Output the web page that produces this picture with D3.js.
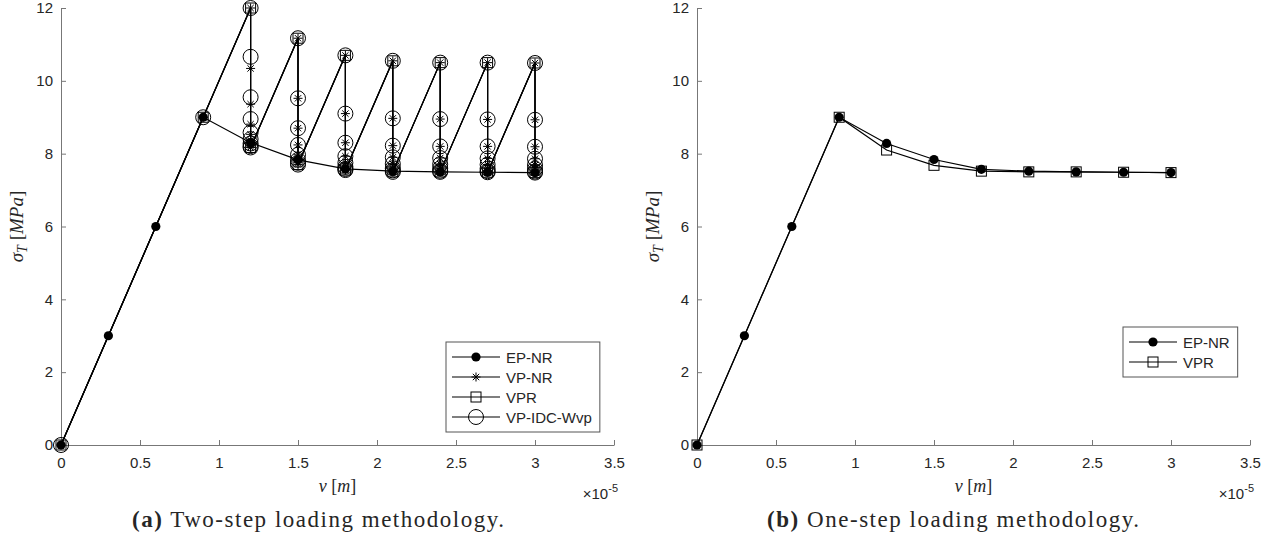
<!DOCTYPE html>
<html>
<head>
<meta charset="utf-8">
<script src="https://cdn.jsdelivr.net/npm/d3@7.9.0/dist/d3.min.js"></script>
<style>
body { margin: 0; background: #fff; }
svg { display: block; }
.tick text { font-family: "Liberation Sans", Arial, sans-serif; font-size: 15px; fill: #262626; }
.axis path, .axis line { stroke: #777; }
.serif { font-family: "Liberation Serif", "DejaVu Serif", serif; fill: #262626; }
.sans { font-family: "Liberation Sans", Arial, sans-serif; fill: #262626; }
</style>
</head>
<body>
<svg id="chart" width="1288" height="546"></svg>
<script>
// load steps (x 1e-5 m) and converged stresses (MPa)
const vLoad = [0, 0.3, 0.6, 0.9, 1.2, 1.5, 1.8, 2.1, 2.4, 2.7, 3.0];
const epNrTwoStep = [0, 3, 6, 9, 8.3, 7.83, 7.58, 7.52, 7.5, 7.49, 7.48];
const epNrOneStep = [0, 3, 6, 9, 8.28, 7.84, 7.57, 7.52, 7.5, 7.49, 7.48];

// second-step iterations, one list per load step
const vpLoad = [1.2, 1.5, 1.8, 2.1, 2.4, 2.7, 3.0];
const vpNrIter = [
    [12, 10.34, 9.36, 8.81, 8.53, 8.37, 8.27, 8.21, 8.17],
    [11.17, 9.52, 8.7, 8.24, 7.97, 7.83, 7.75, 7.7],
    [10.7, 9.1, 8.3, 7.93, 7.75, 7.64, 7.58, 7.55],
    [10.55, 8.97, 8.22, 7.9, 7.72, 7.6, 7.54, 7.5],
    [10.5, 8.95, 8.2, 7.88, 7.71, 7.6, 7.53, 7.5],
    [10.5, 8.94, 8.2, 7.87, 7.7, 7.59, 7.52, 7.49],
    [10.49, 8.93, 8.19, 7.86, 7.69, 7.58, 7.51, 7.48]
];
const vpIdcIter = [
    [12, 10.66, 9.55, 8.95, 8.58, 8.4, 8.28, 8.21, 8.17],
    [11.17, 9.52, 8.7, 8.24, 7.97, 7.83, 7.75, 7.7],
    [10.7, 9.1, 8.3, 7.93, 7.75, 7.64, 7.58, 7.55],
    [10.55, 8.97, 8.22, 7.9, 7.72, 7.6, 7.54, 7.5],
    [10.5, 8.95, 8.2, 7.88, 7.71, 7.6, 7.53, 7.5],
    [10.5, 8.94, 8.2, 7.87, 7.7, 7.59, 7.52, 7.49],
    [10.49, 8.93, 8.19, 7.86, 7.69, 7.58, 7.51, 7.48]
];
const vprTwoStep = [[12, 8.17], [11.17, 7.7], [10.7, 7.55], [10.55, 7.5], [10.5, 7.5], [10.5, 7.49], [10.49, 7.48]];

const vprOneStepLoad = [0, 0.9, 1.2, 1.5, 1.8, 2.1, 2.4, 2.7, 3.0];
const vprOneStep = [0, 9, 8.1, 7.68, 7.52, 7.5, 7.5, 7.49, 7.48];

const xTicks = [0, 0.5, 1, 1.5, 2, 2.5, 3, 3.5];
const yTicks = [0, 2, 4, 6, 8, 10, 12];

const svg = d3.select('#chart');
svg.append('rect').attr('width', 1288).attr('height', 546).attr('fill', '#fff');

const plotTop = 8, W = 553, H = 437;

function iterPoints(iters) {
    const pts = [[0, 0], [0.9, 9]];
    vpLoad.forEach((v, i) => iters[i].forEach(s => pts.push([v, s])));
    return pts;
}

function drawMarker(g, type, cx, cy) {
    if (type === 'dot') {
        g.append('circle').attr('cx', cx).attr('cy', cy).attr('r', 4.6).attr('fill', '#000');
    } else if (type === 'star') {
        const r = 4.5, d = r * 0.707;
        g.append('path')
            .attr('d', `M${cx - r},${cy}H${cx + r}M${cx},${cy - r}V${cy + r}M${cx - d},${cy - d}L${cx + d},${cy + d}M${cx - d},${cy + d}L${cx + d},${cy - d}`)
            .attr('stroke', '#000').attr('stroke-width', 1).attr('fill', 'none');
    } else if (type === 'square') {
        g.append('rect').attr('x', cx - 5).attr('y', cy - 5).attr('width', 10).attr('height', 10)
            .attr('fill', 'none').attr('stroke', '#000').attr('stroke-width', 1);
    } else {
        g.append('circle').attr('cx', cx).attr('cy', cy).attr('r', 7.5)
            .attr('fill', 'none').attr('stroke', '#000').attr('stroke-width', 1);
    }
}

function drawPanel(left, series, legend, captionX, tag, captionText) {
    const g = svg.append('g').attr('transform', `translate(${left},${plotTop})`);
    const x = d3.scaleLinear().domain([0, 3.5]).range([0, W]);
    const y = d3.scaleLinear().domain([0, 12]).range([H, 0]);

    g.append('g').attr('class', 'axis').attr('transform', `translate(0,${H})`)
        .call(d3.axisBottom(x).tickValues(xTicks).tickFormat(d3.format('~g'))
            .tickSizeInner(-5).tickSizeOuter(0).tickPadding(12));
    g.append('g').attr('class', 'axis')
        .call(d3.axisLeft(y).tickValues(yTicks).tickFormat(d3.format('~g'))
            .tickSizeInner(-5).tickSizeOuter(0).tickPadding(8));

    const line = d3.line().x(d => x(d[0])).y(d => y(d[1]));
    series.forEach(s => {
        g.append('path').datum(s.points).attr('d', line)
            .attr('fill', 'none').attr('stroke', '#000').attr('stroke-width', 1.2);
        s.points.forEach(p => drawMarker(g, s.marker, x(p[0]), y(p[1])));
    });

    // legend
    const rowH = 20;
    const lg = svg.append('g').attr('transform', `translate(${legend.x},${legend.y})`);
    const box = lg.append('rect').attr('height', series.length * rowH + 10)
        .attr('fill', '#fff').attr('stroke', '#555').attr('stroke-width', 1);
    let maxW = 0;
    series.forEach((s, i) => {
        const yy = 15 + i * rowH;
        lg.append('line').attr('x1', 6).attr('x2', 54).attr('y1', yy).attr('y2', yy)
            .attr('stroke', '#000').attr('stroke-width', 1.2);
        drawMarker(lg, s.marker, 30, yy);
        const t = lg.append('text').attr('class', 'sans').attr('x', 60).attr('y', yy + 5.5)
            .style('font-size', '15px').text(s.name);
        maxW = Math.max(maxW, t.node().getComputedTextLength());
    });
    box.attr('width', 60 + maxW + 8);

    // axis labels
    const xl = g.append('text').attr('class', 'serif').attr('x', W / 2).attr('y', H + 47)
        .attr('text-anchor', 'middle').style('font-size', '18px');
    xl.append('tspan').style('font-style', 'italic').text('v');
    xl.append('tspan').text(' [');
    xl.append('tspan').style('font-style', 'italic').text('m');
    xl.append('tspan').text(']');

    const ex = g.append('text').attr('class', 'sans').attr('x', W + 4).attr('y', H + 54)
        .attr('text-anchor', 'end').style('font-size', '15px');
    ex.append('tspan').text('×10');
    ex.append('tspan').attr('dy', -7).style('font-size', '11px').text('-5');

    const yl = g.append('text').attr('class', 'serif')
        .attr('transform', `translate(-38,${H / 2}) rotate(-90)`)
        .attr('text-anchor', 'middle').style('font-size', '19px');
    yl.append('tspan').style('font-style', 'italic').text('σ');
    yl.append('tspan').style('font-style', 'italic').style('font-size', '14px').attr('dy', 4).text('T');
    yl.append('tspan').attr('dy', -4).text(' [');
    yl.append('tspan').style('font-style', 'italic').text('MPa');
    yl.append('tspan').text(']');

    // caption
    const cap = svg.append('text').attr('class', 'serif').attr('x', captionX).attr('y', 527)
        .attr('text-anchor', 'middle').style('font-size', '23px')
        .attr('textLength', 372).attr('lengthAdjust', 'spacing');
    cap.append('tspan').style('font-weight', 'bold').text(tag);
    cap.append('tspan').text(' ' + captionText);
}

drawPanel(61, [
    { name: 'EP-NR', marker: 'dot', points: vLoad.map((v, i) => [v, epNrTwoStep[i]]) },
    { name: 'VP-NR', marker: 'star', points: iterPoints(vpNrIter) },
    { name: 'VPR', marker: 'square', points: [[0, 0], [0.9, 9]].concat(vpLoad.flatMap((v, i) => vprTwoStep[i].map(s => [v, s]))) },
    { name: 'VP-IDC-Wvp', marker: 'circle', points: iterPoints(vpIdcIter) }
], { x: 446, y: 342 }, 318, '(a)', 'Two-step loading methodology.');

drawPanel(697, [
    { name: 'EP-NR', marker: 'dot', points: vLoad.map((v, i) => [v, epNrOneStep[i]]) },
    { name: 'VPR', marker: 'square', points: vprOneStepLoad.map((v, i) => [v, vprOneStep[i]]) }
], { x: 1123, y: 327 }, 953, '(b)', 'One-step loading methodology.');
</script>
</body>
</html>
